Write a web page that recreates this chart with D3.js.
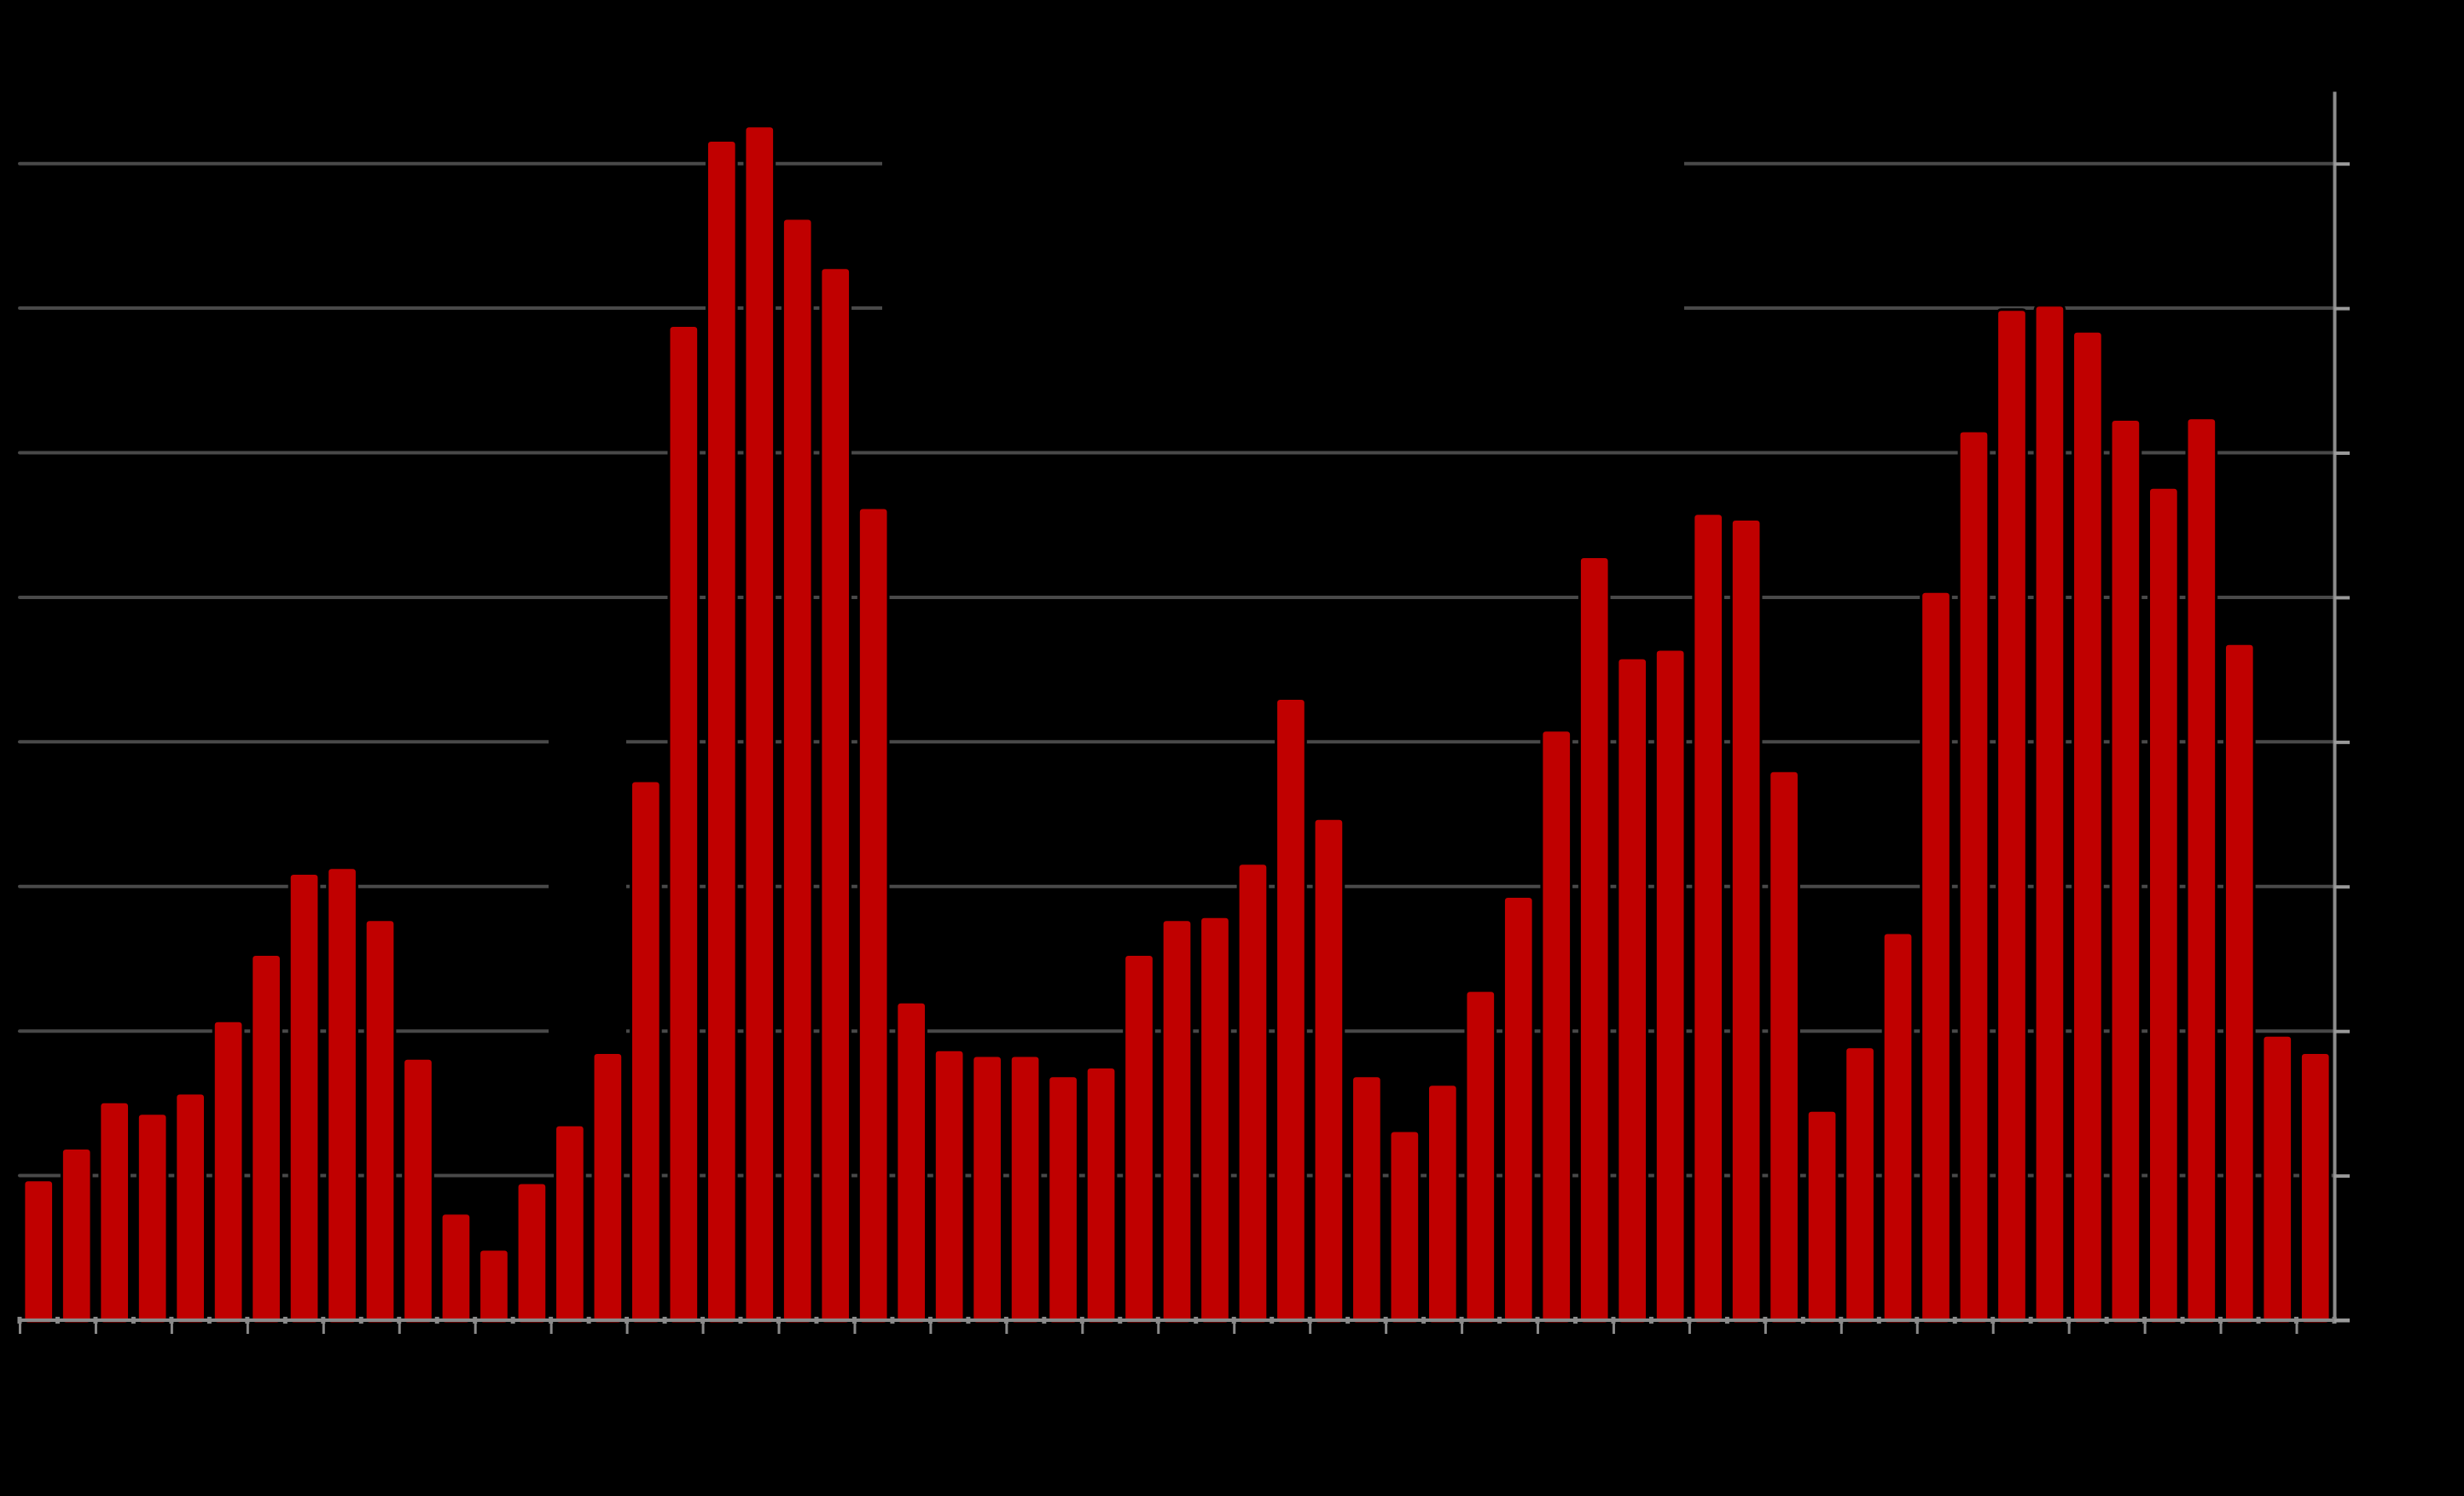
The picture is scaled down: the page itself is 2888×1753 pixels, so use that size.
<!DOCTYPE html>
<html>
<head>
<meta charset="utf-8">
<script src="https://cdn.jsdelivr.net/npm/d3@7"></script>
<style>
  html, body { margin: 0; padding: 0; background: #000; }
  svg { display: block; }
</style>
</head>
<body>
<svg id="chart" width="2888" height="1753"></svg>
<script>
// ---- data ----
const years = d3.range(1960, 2021);
const values = [
  9.7, 11.9, 15.1, 14.3, 15.7, 20.7, 25.3, 30.9, 31.3, 27.7,
  18.1, 7.4, 4.9, 9.5, 13.5, 18.5, 37.3, 68.8, 81.6, 82.6,
  76.2, 72.8, 56.2, 22.0, 18.7, 18.3, 18.3, 16.9, 17.5, 25.3,
  27.7, 27.9, 31.6, 43.0, 34.7, 16.9, 13.1, 16.3, 22.8, 29.3,
  40.8, 52.8, 45.8, 46.4, 55.8, 55.4, 38.0, 14.5, 18.9, 26.8,
  50.4, 61.5, 69.9, 70.2, 68.4, 62.3, 57.6, 62.4, 46.8, 19.7,
  18.5
];
const yTicks = [0, 10, 20, 30, 40, 50, 60, 70, 80];
const xTickYears = d3.range(1960, 2021, 2);

(function () {
  // ---- layout ----
  const pLeft = 23, pRight = 2736, pTop = 107, pBottom = 1547;
  const svg = d3.select("#chart");
  svg.append("rect").attr("width", 2888).attr("height", 1753).attr("fill", "#000");

  const x = d3.scaleBand().domain(years).range([pLeft, pRight])
    .paddingInner(0.22).paddingOuter(0.11);
  const xYear = d3.scaleLinear().domain([1960, 2021]).range([pLeft, pRight]);
  const y = d3.scaleLinear().domain([0, 85]).range([pBottom, pTop]);

  // gridlines
  svg.append("g").selectAll("line")
    .data(yTicks.filter(d => d > 0))
    .join("line")
    .attr("x1", pLeft).attr("x2", pRight)
    .attr("y1", d => y(d)).attr("y2", d => y(d))
    .attr("stroke", "#494949").attr("stroke-width", 4)
    .attr("stroke-linecap", "round");

  // black boxes occluding gridlines (text backgrounds)
  svg.append("rect").attr("x", 1034).attr("y", 130).attr("width", 940).attr("height", 320).attr("fill", "#000");
  svg.append("rect").attr("x", 643).attr("y", 790).attr("width", 91).attr("height", 500).attr("fill", "#000");

  // bars
  svg.append("g").selectAll("rect")
    .data(values)
    .join("rect")
    .attr("x", (d, i) => x(years[i]))
    .attr("width", x.bandwidth())
    .attr("y", d => y(d))
    .attr("height", d => y(0) - y(d) + 4)
    .attr("rx", 5).attr("ry", 5)
    .attr("fill", "#c00000")
    .attr("stroke", "#000").attr("stroke-width", 3);

  // bottom axis
  const xAxis = d3.axisBottom(xYear).tickValues(xTickYears).tickSize(16).tickSizeOuter(0).tickFormat("");
  const gx = svg.append("g").attr("transform", `translate(0,${pBottom})`).call(xAxis);
  gx.select(".domain").remove();
  gx.selectAll(".tick line").attr("stroke", "#8a8a8a").attr("stroke-width", 3);
  svg.append("line").attr("x1", pLeft).attr("x2", 2754).attr("y1", pBottom).attr("y2", pBottom)
    .attr("stroke", "#8a8a8a").attr("stroke-width", 4);
  // minor marks at every year boundary
  svg.append("g").selectAll("rect")
    .data(d3.range(1960, 2022))
    .join("rect")
    .attr("x", d => xYear(d) - 2.5).attr("y", pBottom - 4)
    .attr("width", 5).attr("height", 8)
    .attr("fill", "#8a8a8a");

  // right axis
  const yAxis = d3.axisRight(y).tickValues(yTicks).tickSize(18).tickSizeOuter(0).tickFormat("");
  const gy = svg.append("g").attr("transform", `translate(${pRight},0)`).call(yAxis);
  gy.select(".domain").attr("stroke", "#8c8c8c").attr("stroke-width", 4);
  gy.selectAll(".tick line").attr("stroke", "#9a9a9a").attr("stroke-width", 4);
})();
</script>
</body>
</html>
